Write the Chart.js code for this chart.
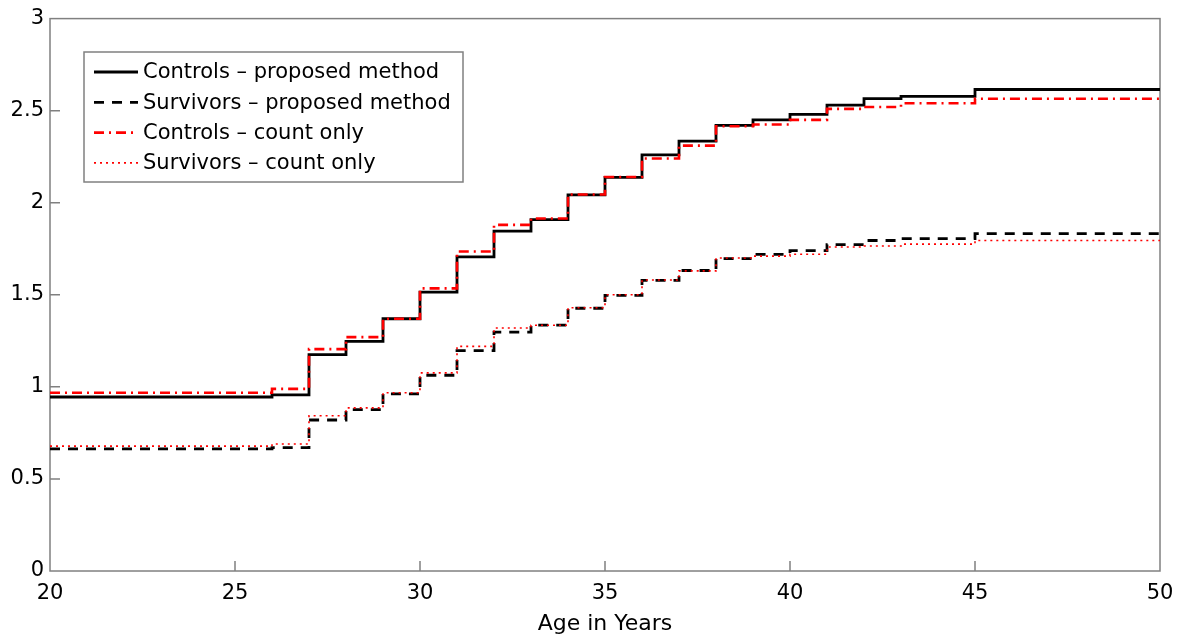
<!DOCTYPE html>
<html>
<head>
<meta charset="utf-8">
<script src="https://cdn.jsdelivr.net/npm/chart.js@4"></script>
<style>
  body { margin: 0; background: #fff; }
  canvas { display: block; }
</style>
</head>
<body>
<canvas id="stepChart" width="1188" height="641"></canvas>
<script>
// step levels: each value holds from that age until the next age
const ages = [20, 26, 27, 28, 29, 30, 31, 32, 33, 34, 35, 36, 37, 38, 39, 40, 41, 42, 43, 45, 50];

const controlsProposed = [0.945, 0.957, 1.175, 1.247, 1.37, 1.514, 1.706, 1.846, 1.908, 2.043, 2.138,
  2.26, 2.335, 2.42, 2.45, 2.48, 2.53, 2.565, 2.578, 2.615, 2.615];
const survivorsProposed = [0.663, 0.67, 0.82, 0.876, 0.962, 1.063, 1.197, 1.297, 1.335, 1.427, 1.497,
  1.578, 1.632, 1.697, 1.719, 1.74, 1.773, 1.795, 1.805, 1.832, 1.832];
const controlsCount = [0.968, 0.989, 1.205, 1.27, 1.37, 1.535, 1.735, 1.88, 1.914, 2.045, 2.14,
  2.24, 2.31, 2.415, 2.425, 2.45, 2.51, 2.52, 2.54, 2.565, 2.565];
const survivorsCount = [0.678, 0.69, 0.843, 0.886, 0.968, 1.076, 1.22, 1.32, 1.335, 1.43, 1.50,
  1.58, 1.63, 1.70, 1.71, 1.72, 1.76, 1.765, 1.775, 1.795, 1.795];

const xTicks = [20, 25, 30, 35, 40, 45, 50];
const yTicks = [0, 0.5, 1, 1.5, 2, 2.5, 3];
const yTickLabels = ['0', '0.5', '1', '1.5', '2', '2.5', '3'];

const FONT = 'DejaVu Sans';
const axisGray = '#808080';

const toPoints = vals => ages.map((a, i) => ({ x: a, y: vals[i] }));

const series = [
  { label: 'Controls \u2013 proposed method', data: toPoints(controlsProposed), color: '#000', width: 2.8, dash: [], order: 2 },
  { label: 'Survivors \u2013 proposed method', data: toPoints(survivorsProposed), color: '#000', width: 2.8, dash: [10, 8], order: 2 },
  { label: 'Controls \u2013 count only', data: toPoints(controlsCount), color: '#ff0000', width: 2.6, dash: [10, 5, 2, 5], order: 1 },
  { label: 'Survivors \u2013 count only', data: toPoints(survivorsCount), color: '#ff0000', width: 1.6, dash: [2, 4], order: 1 },
];

// box around plot area with inward ticks (matlab style)
const boxPlugin = {
  id: 'box',
  beforeDatasetsDraw(chart) {
    const { ctx, chartArea: a, scales } = chart;
    ctx.save();
    ctx.strokeStyle = axisGray;
    ctx.lineWidth = 1.5;
    ctx.strokeRect(a.left, a.top, a.right - a.left, a.bottom - a.top);
    ctx.beginPath();
    xTicks.slice(1, -1).forEach(v => {
      const px = scales.x.getPixelForValue(v);
      ctx.moveTo(px, a.bottom);
      ctx.lineTo(px, a.bottom - 10);
    });
    yTicks.slice(1, -1).forEach(v => {
      const py = scales.y.getPixelForValue(v);
      ctx.moveTo(a.left, py);
      ctx.lineTo(a.left + 10, py);
    });
    ctx.stroke();
    ctx.restore();
  }
};

// legend box inside the plot, upper left
const legendPlugin = {
  id: 'boxLegend',
  afterDraw(chart) {
    const ctx = chart.ctx;
    const x0 = 84, y0 = 52, w = 379, h = 130;
    ctx.save();
    ctx.fillStyle = '#fff';
    ctx.fillRect(x0, y0, w, h);
    ctx.strokeStyle = axisGray;
    ctx.lineWidth = 1.5;
    ctx.strokeRect(x0, y0, w, h);
    ctx.font = '21px "' + FONT + '"';
    ctx.textBaseline = 'middle';
    series.forEach((s, i) => {
      const y = y0 + 20 + i * 30.3;
      ctx.beginPath();
      ctx.strokeStyle = s.color;
      ctx.lineWidth = s.width;
      ctx.setLineDash(s.dash);
      ctx.moveTo(94, y);
      ctx.lineTo(138, y);
      ctx.stroke();
      ctx.setLineDash([]);
      ctx.fillStyle = '#000';
      ctx.fillText(s.label, 143, y + 1);
    });
    ctx.restore();
  }
};

new Chart(document.getElementById('stepChart'), {
  type: 'line',
  data: {
    datasets: series.map(s => ({
      label: s.label,
      data: s.data,
      borderColor: s.color,
      backgroundColor: s.color,
      borderWidth: s.width,
      borderDash: s.dash,
      stepped: true,
      pointRadius: 0,
      fill: false,
      order: s.order,
    })),
  },
  options: {
    responsive: false,
    animation: false,
    layout: { padding: { top: 16, right: 28, left: 0, bottom: 0 } },
    plugins: {
      legend: { display: false },
      tooltip: { enabled: false },
    },
    scales: {
      x: {
        type: 'linear',
        min: 20,
        max: 50,
        afterFit: s => { s.height = 70; },
        afterBuildTicks: s => { s.ticks = xTicks.map(v => ({ value: v })); },
        grid: { display: false, drawTicks: false },
        border: { display: false },
        ticks: { color: '#000', padding: 10, font: { family: FONT, size: 21 } },
        title: {
          display: true,
          text: 'Age in Years',
          color: '#000',
          font: { family: FONT, size: 22 },
          padding: { top: 0, bottom: 4 },
        },
      },
      y: {
        min: 0,
        max: 3,
        afterFit: s => { s.width = 50; },
        afterBuildTicks: s => { s.ticks = yTicks.map(v => ({ value: v })); },
        grid: { display: false, drawTicks: false },
        border: { display: false },
        ticks: {
          color: '#000',
          padding: 6,
          font: { family: FONT, size: 21 },
          callback: (v, i) => yTickLabels[i],
        },
      },
    },
  },
  plugins: [boxPlugin, legendPlugin],
});
</script>
</body>
</html>
